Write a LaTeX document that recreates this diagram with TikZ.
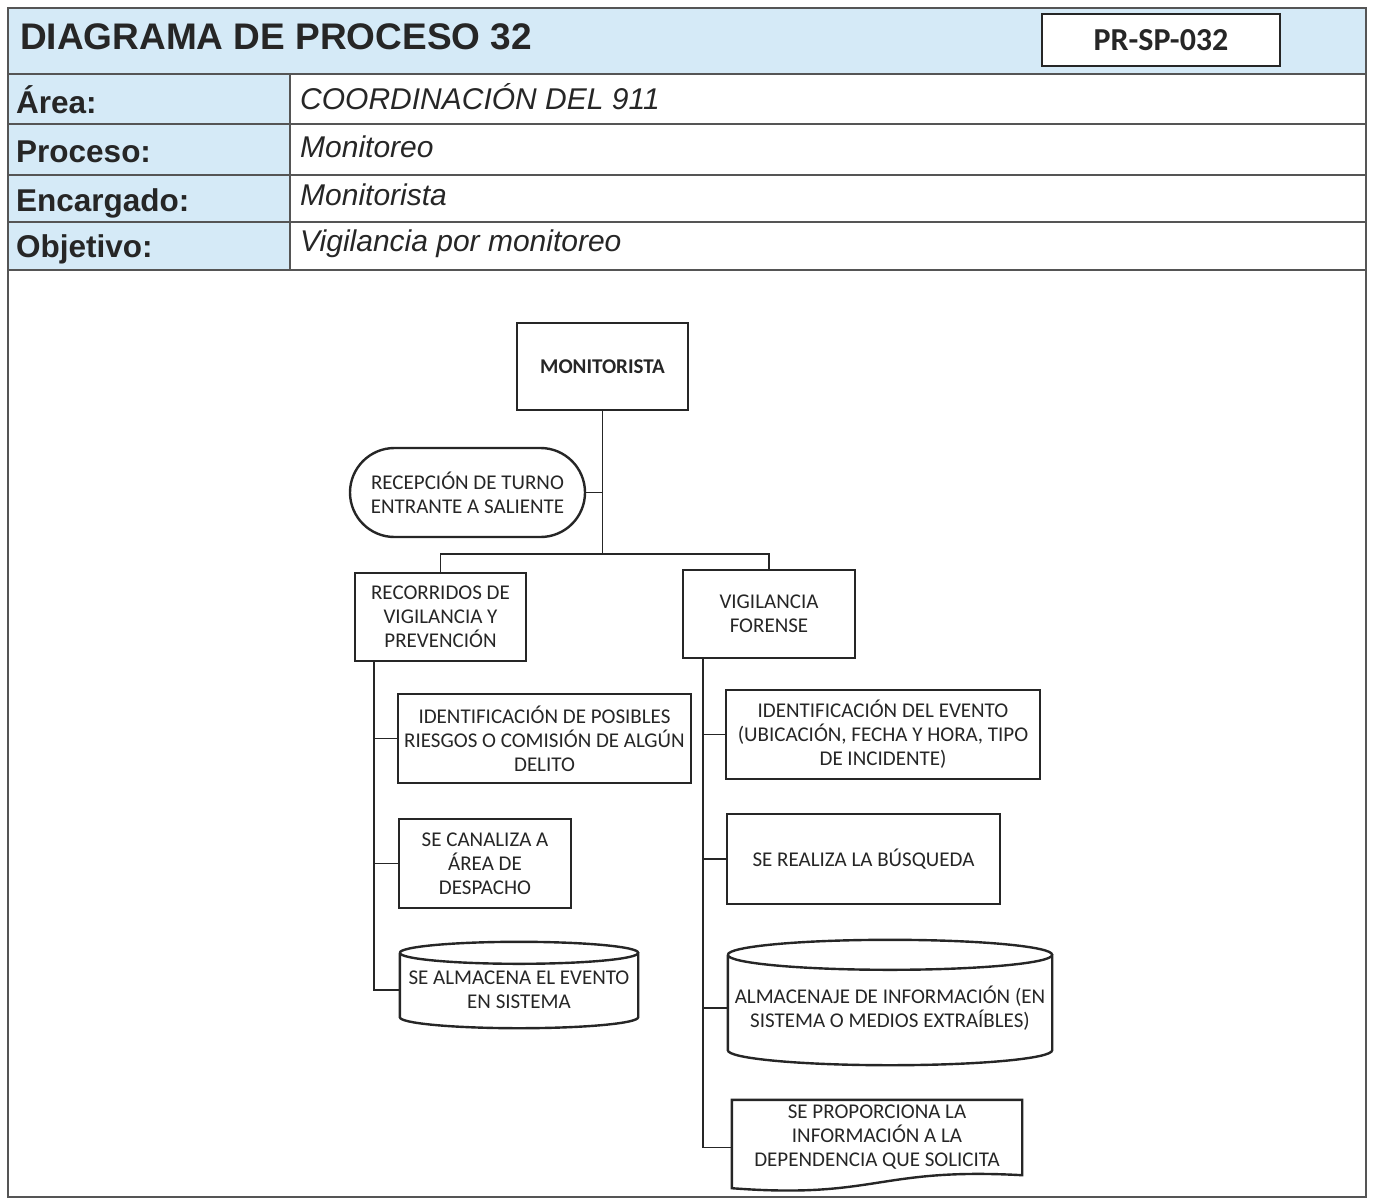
\documentclass[tikz,border=0pt]{standalone}
\usepackage{fontspec}
\setmainfont{Liberation Sans}
\newfontfamily\calibri{Carlito}
\usetikzlibrary{
    positioning,
    calc,
    shapes.misc
}
\definecolor{AzulCabecera}{HTML}{D5EAF7}
\definecolor{GrisMarco}{HTML}{555555}
\definecolor{GrisTexto}{HTML}{262626}

\tikzset{
    marco/.style={draw=GrisMarco, line width=2.4pt},
    trazo/.style={draw=GrisTexto, line width=2.4pt},
    linea/.style={draw=GrisTexto, line width=1.8pt},
    plano/.style={align=center, inner sep=2pt, text=GrisTexto,
        font={\calibri\fontsize{21}{24}\selectfont}},
    caja/.style={plano, trazo, fill=white},
    terminal/.style={caja, rounded rectangle},
    etiqueta/.style={anchor=base west, inner sep=0pt, text=GrisTexto,
        font={\bfseries\fontsize{31.5}{36}\selectfont}},
    valor/.style={anchor=base west, inner sep=0pt, text=GrisTexto,
        font={\itshape\fontsize{30}{34}\selectfont}}
}

% cilindro alrededor de un nodo: #1 nodo, #2 semieje vertical, #3 margen superior
\newcommand{\cilindro}[3]{%
    \draw[trazo] let \p1=(#1.north west), \p2=(#1.south east) in
        (\x1,\y1+#3-#2) arc[start angle=180, end angle=-180,
            x radius={(\x2-\x1)/2}, y radius=#2]
        (\x1,\y1+#3-#2) -- (\x1,\y2+#2)
        arc[start angle=180, end angle=360,
            x radius={(\x2-\x1)/2}, y radius=#2]
        -- (\x2,\y1+#3-#2);
}
% documento con borde inferior ondulado
\newcommand{\documento}[1]{%
    \draw[trazo] let \p1=(#1.north west), \p2=(#1.south east) in
        (\x1,\y2-13pt) -- (\x1,\y1) -- (\x2,\y1) -- (\x2,\y2)
        .. controls ({(\x1+\x2)/2},\y2+8pt) and ({(\x1+\x2)/2},\y2-24pt) .. (\x1,\y2-13pt)
        -- cycle;
}

\begin{document}
\begin{tikzpicture}[x=1pt, y=-1pt]
    \useasboundingbox (0,0) rectangle (1376,1203);

    % cabecera
    \fill[AzulCabecera] (8,8) rectangle (1366,74);
    \fill[AzulCabecera] (8,74) rectangle (290,270);
    \foreach \y in {74,124,175,222,270}
        \draw[marco] (8,\y) -- (1366,\y);
    \draw[marco] (290,74) -- (290,270);
    \draw[marco] (8,8) rectangle (1366,1197);

    \node[anchor=base west, inner sep=0pt, text=GrisTexto,
        font={\bfseries\fontsize{37}{42}\selectfont}] (titulo) at (20,49)
        {DIAGRAMA DE PROCESO 32};
    \node[draw=GrisTexto, line width=1.8pt, fill=white, text=GrisTexto,
        minimum width=238, minimum height=52,
        font={\calibri\bfseries\fontsize{32}{36}\selectfont}] (codigo) at (1161,40)
        {PR-SP-032};

    \foreach \et/\va/\ye/\yv [count=\i] in {
        Área:/COORDINACIÓN DEL 911/113/109,
        Proceso:/Monitoreo/162/157,
        Encargado:/Monitorista/211/205,
        Objetivo:/Vigilancia por monitoreo/257/251}{
        \node[etiqueta] (et\i) at (16,\ye) {\et};
        \node[valor] (va\i) at (300,\yv) {\va};
    }

    % diagrama
    \node[caja, minimum width=171, minimum height=87,
        font={\calibri\bfseries\fontsize{21}{24}\selectfont}] (monitorista) at (602.5,366.5)
        {MONITORISTA};
    \node[terminal, minimum width=239, minimum height=89] (recepcion) at (467.5,492.5)
        {RECEPCIÓN DE TURNO\\ENTRANTE A SALIENTE};
    \node[caja, minimum width=171, minimum height=88] (recorridos) at (440.5,617)
        {RECORRIDOS DE\\VIGILANCIA Y\\PREVENCIÓN};
    \node[caja, minimum width=172, minimum height=88] (forense) at (769,614)
        {VIGILANCIA\\FORENSE};

    \node[caja, minimum width=293, minimum height=89] (posibles) at (544.5,738.5)
        {IDENTIFICACIÓN DE POSIBLES\\RIESGOS O COMISIÓN DE ALGÚN\\DELITO};
    \node[caja, minimum width=172, minimum height=89] (canaliza) at (485,863.5)
        {SE CANALIZA A\\ÁREA DE\\DESPACHO};
    \node[plano, minimum width=238, minimum height=76] (almacena) at (519,990)
        {SE ALMACENA EL EVENTO\\EN SISTEMA};
    \cilindro{almacena}{11pt}{10pt}

    \node[caja, minimum width=314, minimum height=89] (evento) at (883,734.5)
        {IDENTIFICACIÓN DEL EVENTO\\(UBICACIÓN, FECHA Y HORA, TIPO\\DE INCIDENTE)};
    \node[caja, minimum width=273, minimum height=90] (busqueda) at (863.5,859)
        {SE REALIZA LA BÚSQUEDA};
    \node[plano, minimum width=324, minimum height=114] (almacenaje) at (890,1008)
        {ALMACENAJE DE INFORMACIÓN (EN\\SISTEMA O MEDIOS EXTRAÍBLES)};
    \cilindro{almacenaje}{15pt}{11pt}
    \node[plano, minimum width=290, minimum height=75] (proporciona) at (877,1137.5)
        {SE PROPORCIONA LA\\INFORMACIÓN A LA\\DEPENDENCIA QUE SOLICITA};
    \documento{proporciona}

    % conectores
    \coordinate (bifurca) at ($(monitorista.south)+(0,143)$);
    \draw[linea] (monitorista.south) -- (bifurca);
    \draw[linea] (recepcion.east) -- (recepcion.east -| monitorista.south);
    \draw[linea] (recorridos.north) |- (bifurca) -| (forense.north);

    \coordinate (ramaIzq) at ($(recorridos.south west)+(20,0)$);
    \foreach \hijo in {posibles,canaliza,almacena}
        \draw[linea] (ramaIzq) |- (\hijo.west);
    \coordinate (ramaDer) at ($(forense.south west)+(21,0)$);
    \foreach \hijo in {evento,busqueda,almacenaje}
        \draw[linea] (ramaDer) |- (\hijo.west);
    \draw[linea] (ramaDer) |- ($(proporciona.west)+(0,10)$);
\end{tikzpicture}
\end{document}
